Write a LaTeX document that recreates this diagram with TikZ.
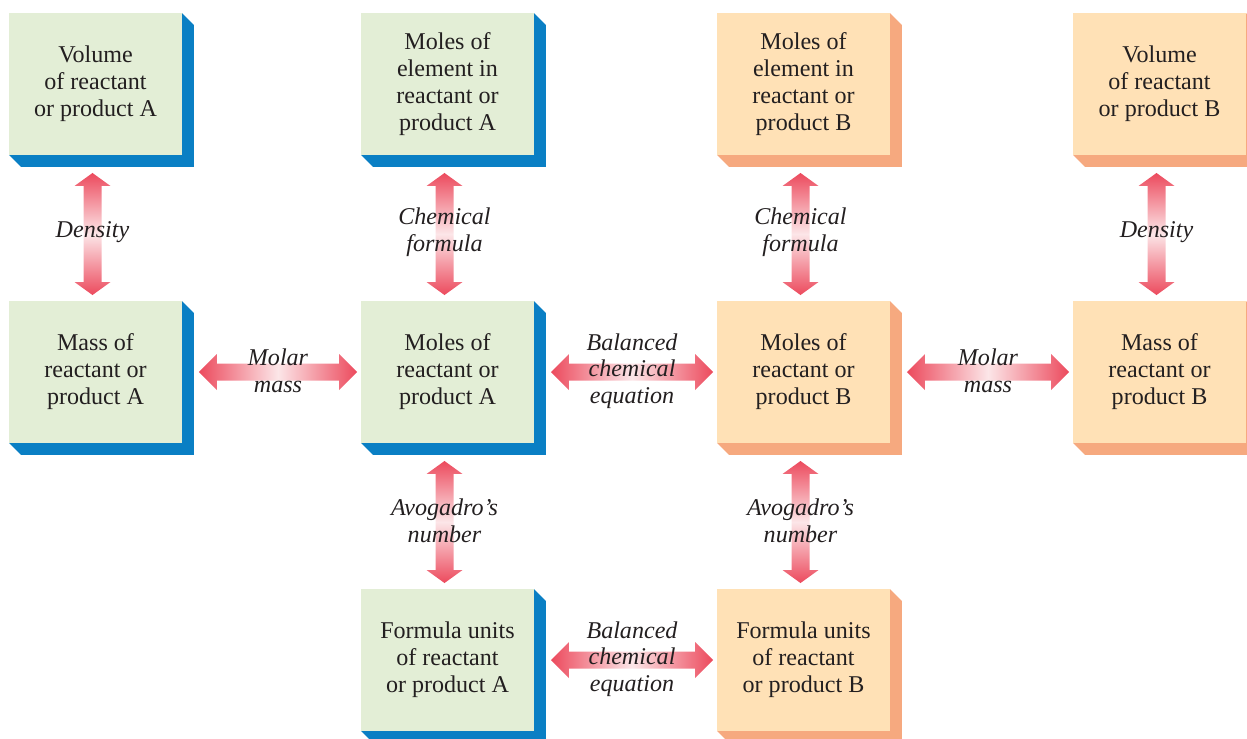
\documentclass[tikz,border=0pt]{standalone}
\usepackage{fontspec}
\setmainfont{Liberation Serif}
\usepackage{tikz}
\usetikzlibrary{calc}
\usetikzlibrary{positioning}
\usetikzlibrary{backgrounds}
\definecolor{faceA}{HTML}{E3EED6}
\definecolor{sideA}{HTML}{0A7FC4}
\definecolor{faceB}{HTML}{FFE1B6}
\definecolor{sideB}{HTML}{F6A97F}
\definecolor{convred}{HTML}{EC4A5D}
\definecolor{convpale}{HTML}{FCE6E8}
\definecolor{inkgray}{HTML}{231F20}
\tikzset{qty/.style={minimum width=3.46cm, minimum height=2.84cm, inner sep=0pt, outer sep=0pt,
  align=center, text=inkgray, font=\fontsize{13.7}{15.4}\selectfont}}
\tikzset{qtyA/.style={qty, fill=faceA}}
\tikzset{qtyB/.style={qty, fill=faceB}}
\tikzset{via/.style={align=center, text=inkgray, font=\fontsize{13.7}{15.2}\selectfont\itshape}}

% horizontal two-way conversion arrow, left node to right node
\newcommand{\hconv}[3]{%
  \coordinate (#1-out) at ($(#1.east)+(17,0)$);
  \coordinate (#2-in) at ($(#2.west)+(-4,0)$);
  \path[left color=convred, right color=convred, middle color=convpale]
    (#1-out) -- ++(18,-18) -- ++(0,9.5) -- ($(#2-in)+(-18,-8.5)$) -- ++(0,-9.5)
    -- (#2-in) -- ++(-18,18) -- ++(0,-9.5) -- ($(#1-out)+(18,8.5)$) -- ++(0,9.5) -- cycle;
  \node[via] (#1-#2) at ($(#1-out)!.5!(#2-in)+(0,-1)$) {#3};
}
% vertical two-way conversion arrow, upper node to lower node
\newcommand{\vconv}[3]{%
  \coordinate (#1-dn) at ($(#1.south)+(-3,18)$);
  \coordinate (#2-up) at ($(#2.north)+(-3,-6)$);
  \path[top color=convred, bottom color=convred, middle color=convpale]
    (#1-dn) -- ++(18,13) -- ++(-9,0) -- ($(#2-up)+(9,-13)$) -- ++(9,0)
    -- (#2-up) -- ++(-18,-13) -- ++(9,0) -- ($(#1-dn)+(-9,13)$) -- ++(-9,0) -- cycle;
  \node[via] (#1-#2) at ($(#1-dn)!.5!(#2-up)+(0,-1.5)$) {#3};
}

\begin{document}
\begin{tikzpicture}[x=0.02cm, y=-0.02cm]
    \useasboundingbox (0,0) rectangle (1247,738);

    % reactant/product A side
    \node[qtyA] (vA) at (95.5,84) {Volume\\of reactant\\or product A};
    \node[qtyA] (eA) at (447.5,84) {Moles of\\element in\\reactant or\\product A};
    \node[qtyA] (mA) at (95.5,372) {Mass of\\reactant or\\product A};
    \node[qtyA] (nA) at (447.5,372) {Moles of\\reactant or\\product A};
    \node[qtyA] (fA) at (447.5,660) {Formula units\\of reactant\\or product A};

    % reactant/product B side
    \node[qtyB] (eB) at (803.5,84) {Moles of\\element in\\reactant or\\product B};
    \node[qtyB] (vB) at (1159.5,84) {Volume\\of reactant\\or product B};
    \node[qtyB] (nB) at (803.5,372) {Moles of\\reactant or\\product B};
    \node[qtyB] (mB) at (1159.5,372) {Mass of\\reactant or\\product B};
    \node[qtyB] (fB) at (803.5,660) {Formula units\\of reactant\\or product B};

    % bevelled edges behind the boxes
    \begin{scope}[on background layer]
        \foreach \b/\c in {vA/sideA, eA/sideA, mA/sideA, nA/sideA, fA/sideA,
                           eB/sideB, vB/sideB, nB/sideB, mB/sideB, fB/sideB}
            \fill[\c] (\b.north east) -- ++(12,12) -- ($(\b.south east)+(12,12)$)
                -- ($(\b.south west)+(12,12)$) -- (\b.south west) -- cycle;
    \end{scope}

    \vconv{vA}{mA}{Density}
    \vconv{eA}{nA}{Chemical\\formula}
    \vconv{eB}{nB}{Chemical\\formula}
    \vconv{vB}{mB}{Density}

    \hconv{mA}{nA}{Molar\\mass}
    \hconv{nA}{nB}{Balanced\\chemical\\equation}
    \hconv{nB}{mB}{Molar\\mass}

    \vconv{nA}{fA}{Avogadro’s\\number}
    \vconv{nB}{fB}{Avogadro’s\\number}
    \hconv{fA}{fB}{Balanced\\chemical\\equation}
\end{tikzpicture}
\end{document}
